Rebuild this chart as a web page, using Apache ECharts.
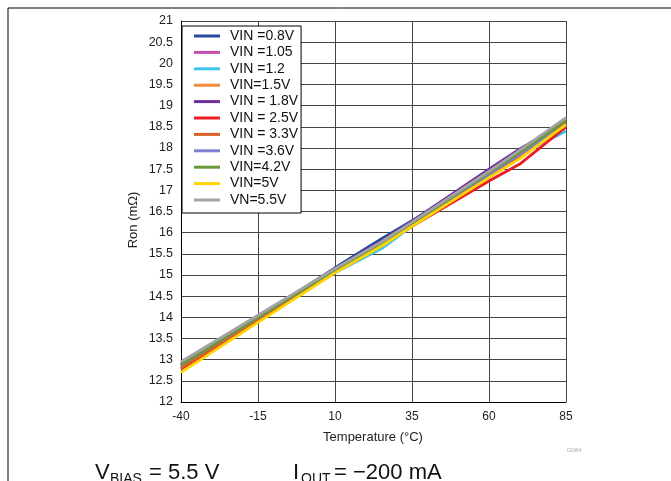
<!DOCTYPE html>
<html><head><meta charset="utf-8">
<script src="https://cdn.jsdelivr.net/npm/echarts@6/dist/echarts.min.js"></script>
<style>html,body{margin:0;padding:0;background:#fff}#c{width:671px;height:481px}</style>
</head><body><div id="c"></div>
<script>
// Temperature (°C) sample points
const temps = [-40, -15, 10, 25, 35, 60, 70, 85];
const seriesNames = ['VIN =0.8V','VIN =1.05','VIN =1.2','VIN=1.5V','VIN = 1.8V','VIN = 2.5V','VIN = 3.3V','VIN =3.6V','VIN=4.2V','VIN=5V','VN=5.5V'];
const seriesColors = ['#24499a','#c64fae','#3ec3f2','#f0893a','#6f2f9f','#ee1c24','#d6622a','#7d80cf','#6b983a','#ffd500','#a3a3a3'];
// Ron (mΩ) values per VIN
const ron08  = [12.85, 14.00, 15.17, 15.85, 16.28, 17.42, 17.85, 18.50];
const ron105 = [12.85, 13.98, 15.12, 15.78, 16.24, 17.42, 17.90, 18.60];
const ron12  = [12.80, 13.95, 15.05, 15.62, 16.15, 17.35, 17.82, 18.40];
const ron15  = [12.78, 13.95, 15.08, 15.72, 16.20, 17.35, 17.80, 18.55];
const ron18  = [12.90, 14.02, 15.15, 15.80, 16.27, 17.50, 17.98, 18.62];
const ron25  = [12.78, 13.93, 15.08, 15.70, 16.15, 17.22, 17.62, 18.50];
const ron33  = [12.80, 13.95, 15.10, 15.72, 16.20, 17.35, 17.82, 18.60];
const ron36  = [12.88, 14.00, 15.12, 15.75, 16.22, 17.38, 17.85, 18.55];
const ron42  = [12.88, 14.00, 15.12, 15.75, 16.22, 17.42, 17.90, 18.65];
const ron50  = [12.70, 13.88, 15.05, 15.68, 16.15, 17.30, 17.75, 18.55];
const ron55  = [12.95, 14.05, 15.15, 15.78, 16.25, 17.45, 17.95, 18.72];
const allRon = [ron08, ron105, ron12, ron15, ron18, ron25, ron33, ron36, ron42, ron50, ron55];

const chart = echarts.init(document.getElementById('c'), null, {renderer: 'canvas'});
const series = allRon.map((vals, i) => ({
  name: seriesNames[i],
  type: 'line',
  showSymbol: false,
  symbol: 'none',
  data: temps.map((t, j) => [t, vals[j]]),
  lineStyle: {width: 2.8, color: seriesColors[i]},
  itemStyle: {color: seriesColors[i]},
  z: 3 + i
}));

const F = 'Liberation Sans, Arial, sans-serif';
chart.setOption({
  animation: false,
  backgroundColor: '#fff',
  grid: {left: 181, top: 21, width: 385, height: 381},
  xAxis: {
    type: 'value', min: -40, max: 85, interval: 25,
    axisLine: {show: true, onZero: false, lineStyle: {color: '#000', width: 1}},
    axisTick: {show: false},
    axisLabel: {color: '#222', fontFamily: F, fontSize: 12, margin: 9},
    splitLine: {show: true, lineStyle: {color: '#444', width: 1}}
  },
  yAxis: {
    type: 'value', min: 12, max: 21, interval: 0.5,
    axisLine: {show: true, onZero: false, lineStyle: {color: '#000', width: 1}},
    axisTick: {show: false},
    axisLabel: {color: '#222', fontFamily: F, fontSize: 12.5, margin: 8},
    splitLine: {show: true, lineStyle: {color: '#444', width: 1}}
  },
  legend: {
    orient: 'vertical', left: 182, top: 26,
    backgroundColor: '#fff', borderColor: '#000', borderWidth: 1,
    padding: [3, 3, 6, 12],
    icon: 'rect',
    itemWidth: 26, itemHeight: 3, itemGap: 2.4,
    textStyle: {fontFamily: F, fontSize: 14, color: '#111', lineHeight: 14, padding: [0, 0, 0, 5]},
    data: seriesNames,
    z: 20
  },
  graphic: [
    {type: 'line', shape: {x1: 8, y1: 8, x2: 671, y2: 8}, style: {stroke: '#000', lineWidth: 1}},
    {type: 'line', shape: {x1: 8, y1: 8, x2: 8, y2: 481}, style: {stroke: '#000', lineWidth: 1}},
    {type: 'text', x: 133, y: 220, rotation: Math.PI / 2, style: {text: 'Ron (mΩ)', fill: '#222', font: '13px ' + F, textAlign: 'center', textVerticalAlign: 'middle'}},
    {type: 'text', x: 373, y: 437, style: {text: 'Temperature (°C)', fill: '#222', font: '13px ' + F, textAlign: 'center', textVerticalAlign: 'middle'}},
    {type: 'text', x: 574, y: 450, style: {text: 'G084', fill: '#aaa', font: '6px ' + F, textAlign: 'center', textVerticalAlign: 'middle'}},
    {type: 'text', x: 95, y: 484, style: {text: 'V', fill: '#111', font: '22px ' + F, textAlign: 'left', textVerticalAlign: 'bottom'}},
    {type: 'text', x: 110, y: 486, style: {text: 'BIAS', fill: '#111', font: '14px ' + F, textAlign: 'left', textVerticalAlign: 'bottom'}},
    {type: 'text', x: 149, y: 484, style: {text: '= 5.5 V', fill: '#111', font: '22px ' + F, textAlign: 'left', textVerticalAlign: 'bottom'}},
    {type: 'text', x: 293, y: 484, style: {text: 'I', fill: '#111', font: '22px ' + F, textAlign: 'left', textVerticalAlign: 'bottom'}},
    {type: 'text', x: 301, y: 486, style: {text: 'OUT', fill: '#111', font: '14px ' + F, textAlign: 'left', textVerticalAlign: 'bottom'}},
    {type: 'text', x: 334, y: 484, style: {text: '= \u2212200 mA', fill: '#111', font: '22px ' + F, textAlign: 'left', textVerticalAlign: 'bottom'}}
  ],
  series: series
});
</script>
</body></html>
